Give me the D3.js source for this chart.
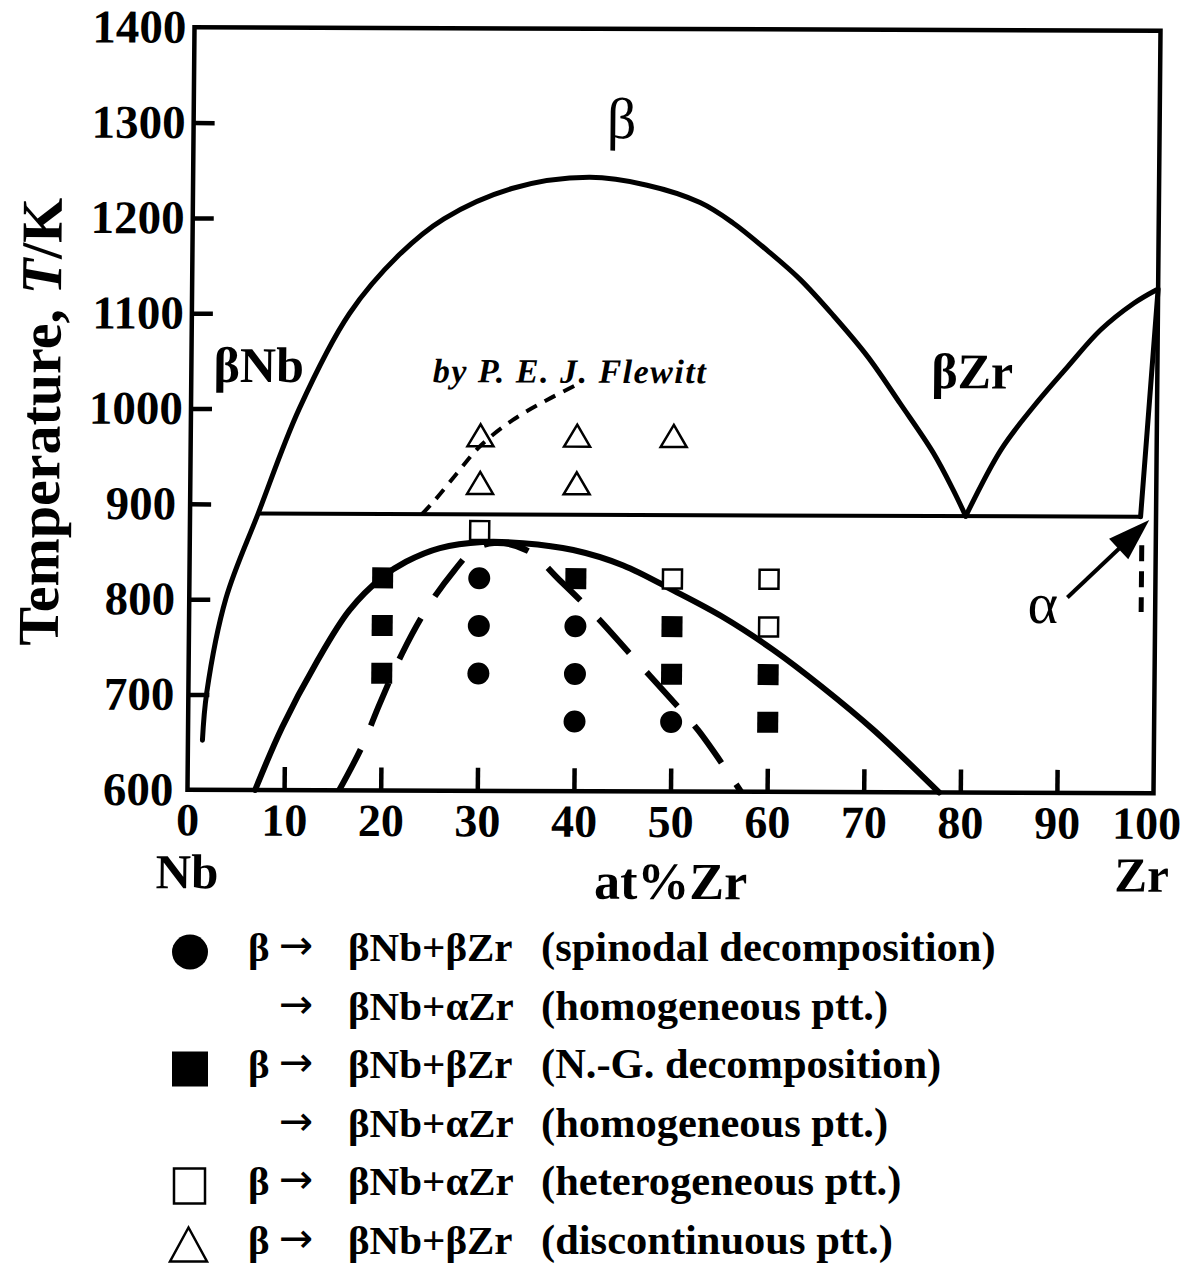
<!DOCTYPE html>
<html>
<head>
<meta charset="utf-8">
<script src="https://cdn.jsdelivr.net/npm/d3@7"></script>
<style>
  html, body { margin: 0; padding: 0; background: #fff; }
  svg { display: block; }
  text { font-family: "Liberation Serif", "Times New Roman", Times, serif; fill: #000; }
  text.arrow { font-family: "DejaVu Sans", sans-serif; }
</style>
</head>
<body>
<svg id="chart" width="1198" height="1273"></svg>
<script>
// ---- axis ticks ----
const xTicks = [0, 10, 20, 30, 40, 50, 60, 70, 80, 90, 100];
const yTicks = [600, 700, 800, 900, 1000, 1100, 1200, 1300, 1400];

// ---- phase boundaries: [at% Zr, T/K] ----
// beta miscibility gap (beta-Nb side up over the dome to the monotectoid point)
const betaDome = [
  [1.5, 652], [1.9, 702], [3.8, 801], [7.05, 890], [11.2, 1000], [16.3, 1100],
  [21.4, 1162], [26.0, 1200], [33.0, 1232], [41.0, 1244], [47.0, 1236],
  [52.5, 1218], [55.9, 1197], [59.5, 1168], [62.9, 1138], [66.4, 1100],
  [70.0, 1057], [73.4, 1008], [76.9, 956], [79.0, 917], [80.3, 890]
];
// beta-Zr / (beta-Zr + alpha) boundary
const betaZrBoundary = [
  [80.3, 890], [83.9, 960], [87.2, 1005], [90.7, 1047], [94.1, 1086],
  [97.5, 1114], [99.8, 1128]
];
// alpha-Zr solvus
const alphaSolvus = [[100, 1129], [98.4, 890]];
const alphaSolvusLow = [[98.55, 860], [98.55, 790]];
// monotectoid isotherm
const monotectoid = [[7.05, 890], [98.4, 890]];
// coherent miscibility gap (solid)
const coherentGap = [
  [7.0, 600], [9.74, 666], [13.2, 733.5], [16.6, 789], [20.0, 824], [22.4, 840],
  [25.9, 854.5], [30.3, 861], [34.5, 860], [39.7, 853], [44.9, 837], [50.1, 811],
  [55.3, 783], [60.5, 749], [65.5, 711], [71.0, 665], [77.8, 600]
];
// chemical spinodal (long dashes)
const spinodal = [
  [15.7, 600], [18.0, 645.5], [19.8, 690.6], [22.1, 744], [24.7, 792.6],
  [27.4, 831], [29.3, 852], [31.5, 860], [35.0, 852], [38.3, 821.5],
  [42.2, 782.8], [45.7, 744], [49.3, 704.3], [52.8, 664.4], [57.3, 600]
];
// boundary after P. E. J. Flewitt (short dashes)
const flewitt = [
  [24.0, 890], [25.1, 902], [27.6, 933], [29.9, 961], [33.3, 989],
  [36.8, 1010], [40.2, 1028]
];

// ---- heat-treatment results: [at% Zr, T/K] ----
const spinodalPts = [[30, 823], [30, 773], [30, 723], [40, 773], [40, 723], [40, 673], [50, 673]];
const nucleationPts = [[20, 823], [20, 773], [20, 723], [40, 823], [50, 773], [50, 723], [60, 723], [60, 673]];
const heteroPts = [[30, 873], [50, 823], [60, 823], [60, 773]];
const discontPts = [[30, 973], [30, 923], [40, 973], [40, 923], [50, 973]];

// ---- annotations ----
const phaseLabels = [
  { text: "β", at: [44.3, 1285], anchor: "middle", size: 58, weight: "normal", style: "normal", spacing: 0 },
  { text: "βNb", at: [2.3, 1028], anchor: "start", size: 50, weight: "bold", style: "normal", spacing: 0 },
  { text: "βZr", at: [76.6, 1024], anchor: "start", size: 50, weight: "bold", style: "normal", spacing: 0 },
  { text: "by P. E. J. Flewitt", at: [25.0, 1028.5], anchor: "start", size: 34, weight: "bold", style: "italic", spacing: 1.5 },
  { text: "α", at: [86.8, 778], anchor: "start", size: 58, weight: "normal", style: "normal", spacing: 0 }
];
const alphaArrow = { tail: [90.9, 805], tip: [99.3, 886.6] };

const legendRows = [
  { sym: "circle",   head: "β", phase: "βNb+βZr", note: "(spinodal decomposition)" },
  { sym: null,       head: "",  phase: "βNb+αZr", note: "(homogeneous ptt.)" },
  { sym: "square",   head: "β", phase: "βNb+βZr", note: "(N.-G. decomposition)" },
  { sym: null,       head: "",  phase: "βNb+αZr", note: "(homogeneous ptt.)" },
  { sym: "open",     head: "β", phase: "βNb+αZr", note: "(heterogeneous ptt.)" },
  { sym: "triangle", head: "β", phase: "βNb+βZr", note: "(discontinuous ptt.)" }
];

// ---- drawing ----
const W = 1198, H = 1273;
const svg = d3.select("#chart");
svg.append("rect").attr("width", W).attr("height", H).attr("fill", "#fff");

const x = d3.scaleLinear().domain([0, 100]).range([191, 1157]);
const y = d3.scaleLinear().domain([600, 1400]).range([791.5, 29]);

// the printed diagram sits very slightly askew on the page
const plot = svg.append("g")
  .attr("transform", "translate(677,410) matrix(1,0.0036,-0.0092,1,0,0) translate(-677,-410)");

// frame
plot.append("rect")
  .attr("x", x(0)).attr("y", y(1400))
  .attr("width", x(100) - x(0)).attr("height", y(600) - y(1400))
  .attr("fill", "none").attr("stroke", "#000").attr("stroke-width", 4.5);

// y axis (inward ticks)
const gy = plot.append("g")
  .attr("transform", `translate(${x(0)},0)`)
  .call(d3.axisLeft(y).tickValues(yTicks).tickSizeInner(-21).tickSizeOuter(0)
        .tickPadding(9).tickFormat(d3.format("d")));
gy.select(".domain").remove();
gy.selectAll(".tick line").attr("stroke", "#000").attr("stroke-width", 4.5)
  .filter(d => d === 600 || d === 1400).remove();
gy.selectAll(".tick text")
  .attr("x", d => String(d).length > 3 ? -8 : -14)
  .attr("font-size", 47).attr("font-weight", "bold").attr("fill", "#000");

// x axis (inward ticks)
const gx = plot.append("g")
  .attr("transform", `translate(0,${y(600)})`)
  .call(d3.axisBottom(x).tickValues(xTicks).tickSizeInner(-23).tickSizeOuter(0)
        .tickPadding(13).tickFormat(d3.format("d")));
gx.select(".domain").remove();
gx.selectAll(".tick line").attr("stroke", "#000").attr("stroke-width", 4.5)
  .filter(d => d === 0 || d === 100).remove();
gx.selectAll(".tick text")
  .attr("dx", d => d === 100 ? -7 : 0)
  .attr("font-size", 46).attr("font-weight", "bold").attr("fill", "#000");

// axis titles
plot.append("text")
  .attr("transform", "translate(60,424) rotate(-90)")
  .attr("text-anchor", "middle").attr("font-size", 58).attr("font-weight", "bold")
  .call(t => {
    t.append("tspan").text("Temperature, ");
    t.append("tspan").attr("font-style", "italic").text("T");
    t.append("tspan").text("/K");
  });
plot.append("text").attr("x", x(0) - 31).attr("y", 890)
  .attr("font-size", 49).attr("font-weight", "bold").text("Nb");
plot.append("text").attr("x", x(50) + 1).attr("y", 899).attr("text-anchor", "middle")
  .attr("font-size", 52).attr("font-weight", "bold").text("at%Zr");
plot.append("text").attr("x", x(100) - 11).attr("y", 890).attr("text-anchor", "middle")
  .attr("font-size", 49).attr("font-weight", "bold").text("Zr");

// boundaries
const smooth = d3.line().x(d => x(d[0])).y(d => y(d[1])).curve(d3.curveCatmullRom.alpha(0.5));
const straight = d3.line().x(d => x(d[0])).y(d => y(d[1]));

function drawPath(data, gen, width, dash) {
  const p = plot.append("path").datum(data).attr("d", gen)
    .attr("fill", "none").attr("stroke", "#000").attr("stroke-width", width)
    .attr("stroke-linejoin", "round");
  if (dash) p.attr("stroke-dasharray", dash).attr("stroke-linecap", "butt");
  else p.attr("stroke-linecap", "round");
  return p;
}
drawPath(monotectoid, straight, 4);
drawPath(betaDome, smooth, 5);
drawPath(betaZrBoundary, smooth, 5);
drawPath(alphaSolvus, straight, 5);
drawPath(alphaSolvusLow, straight, 5, "16,10");
drawPath(coherentGap, smooth, 6);
drawPath(spinodal, smooth, 6, "46,26");
drawPath(flewitt, smooth, 4, "12,9");

// arrow pointing at the alpha solvus
{
  const tx = x(alphaArrow.tail[0]), ty = y(alphaArrow.tail[1]);
  const hx = x(alphaArrow.tip[0]), hy = y(alphaArrow.tip[1]);
  const len = Math.hypot(hx - tx, hy - ty);
  const ux = (hx - tx) / len, uy = (hy - ty) / len;
  const headLen = 42, headHalf = 14;
  const bx = hx - ux * headLen, by = hy - uy * headLen;
  plot.append("line").attr("x1", tx).attr("y1", ty).attr("x2", bx + ux * 4).attr("y2", by + uy * 4)
    .attr("stroke", "#000").attr("stroke-width", 4);
  plot.append("path")
    .attr("d", `M${hx},${hy}L${bx - uy * headHalf},${by + ux * headHalf}L${bx + uy * headHalf},${by - ux * headHalf}Z`)
    .attr("fill", "#000");
}

// markers
function triPath(cx, cy, w, h) {
  return `M${cx},${cy - h / 2}L${cx + w / 2},${cy + h / 2}L${cx - w / 2},${cy + h / 2}Z`;
}
plot.selectAll("circle.sp").data(spinodalPts).join("circle")
  .attr("cx", d => x(d[0])).attr("cy", d => y(d[1])).attr("r", 11).attr("fill", "#000");
plot.selectAll("rect.ng").data(nucleationPts).join("rect")
  .attr("x", d => x(d[0]) - 10.5).attr("y", d => y(d[1]) - 10.5)
  .attr("width", 21).attr("height", 21).attr("fill", "#000");
plot.selectAll("rect.het").data(heteroPts).join("rect")
  .attr("x", d => x(d[0]) - 9.5).attr("y", d => y(d[1]) - 9.5)
  .attr("width", 19).attr("height", 19).attr("fill", "#fff")
  .attr("stroke", "#000").attr("stroke-width", 2.5);
plot.selectAll("path.dc").data(discontPts).join("path")
  .attr("d", d => triPath(x(d[0]), y(d[1]), 26, 22))
  .attr("fill", "none").attr("stroke", "#000").attr("stroke-width", 2.5)
  .attr("stroke-linejoin", "miter");

// phase-field labels
plot.selectAll("text.lbl").data(phaseLabels).join("text")
  .attr("x", d => x(d.at[0])).attr("y", d => y(d.at[1]))
  .attr("text-anchor", d => d.anchor).attr("font-size", d => d.size)
  .attr("font-weight", d => d.weight).attr("font-style", d => d.style)
  .attr("letter-spacing", d => d.spacing)
  .text(d => d.text);

// legend
const legend = svg.append("g");
const rowY = i => 961 + i * 58.5;
legendRows.forEach((r, i) => {
  const by = rowY(i), cy = by - 9, cx = 190;
  if (r.sym === "circle") {
    legend.append("ellipse").attr("cx", cx).attr("cy", cy).attr("rx", 18).attr("ry", 17.5).attr("fill", "#000");
  } else if (r.sym === "square") {
    legend.append("rect").attr("x", cx - 18).attr("y", cy - 17.5).attr("width", 36).attr("height", 35).attr("fill", "#000");
  } else if (r.sym === "open") {
    legend.append("rect").attr("x", cx - 16).attr("y", cy - 17.5).attr("width", 31).attr("height", 35)
      .attr("fill", "none").attr("stroke", "#000").attr("stroke-width", 2.5);
  } else if (r.sym === "triangle") {
    legend.append("path").attr("d", triPath(cx - 1.5, cy, 37, 34))
      .attr("fill", "none").attr("stroke", "#000").attr("stroke-width", 2.5);
  }
  if (r.head) {
    legend.append("text").attr("x", 248).attr("y", by).attr("font-size", 41).attr("font-weight", "bold").text(r.head);
  }
  legend.append("text").attr("class", "arrow").attr("x", 279).attr("y", by - 2)
    .attr("font-size", 41).text("→");
  legend.append("text").attr("x", 348).attr("y", by).attr("font-size", 41).attr("font-weight", "bold").text(r.phase);
  legend.append("text").attr("x", 541).attr("y", by).attr("font-size", 42.5).attr("font-weight", "bold").text(r.note);
});
</script>
</body>
</html>
